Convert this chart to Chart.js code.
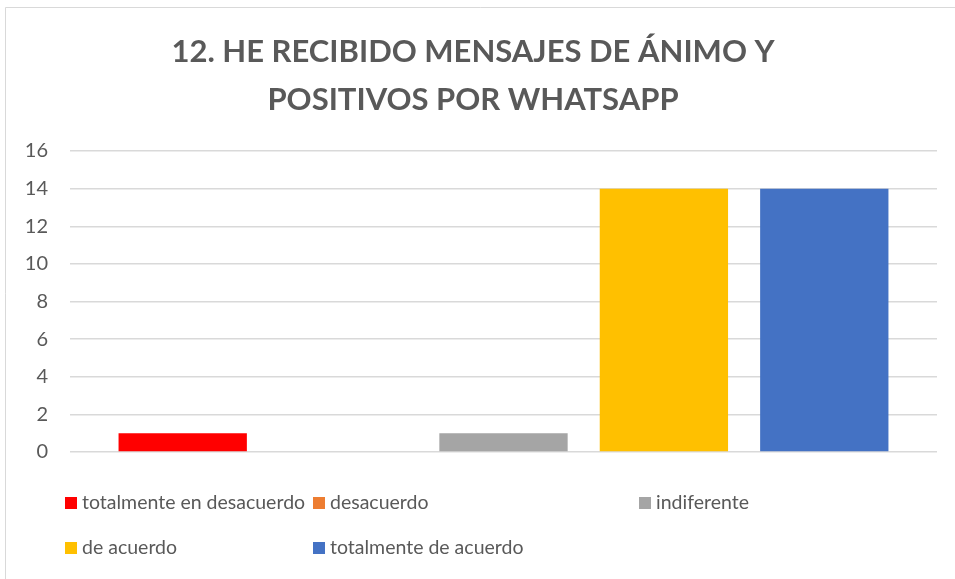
<!DOCTYPE html>
<html>
<head>
<meta charset="utf-8">
<script src="https://cdn.jsdelivr.net/npm/chart.js@4"></script>
<style>
html,body{margin:0;padding:0;background:#fff;}
#wrap{width:955px;height:579px;position:relative;}
</style>
</head>
<body>
<div id="wrap"><canvas id="c" width="955" height="579"></canvas></div>
<script>
const titleLines = ["12. HE RECIBIDO MENSAJES DE ÁNIMO Y", "POSITIVOS POR WHATSAPP"];
const categories = [""];
const seriesNames = ["totalmente en desacuerdo", "desacuerdo", "indiferente", "de acuerdo", "totalmente de acuerdo"];
const seriesValues = [[1], [0], [1], [14], [14]];
const seriesColors = ["#FF0000", "#ED7D31", "#A5A5A5", "#FFC000", "#4472C4"];
const yTicks = [0, 2, 4, 6, 8, 10, 12, 14, 16];

const FONT = "Lato, 'Open Sans', sans-serif";
const TEXT = "#595959";

const framePlugin = {
  id: 'frame',
  beforeDraw(chart) {
    const ctx = chart.ctx;
    ctx.save();
    ctx.fillStyle = '#fff';
    ctx.fillRect(0, 0, chart.width, chart.height);
    ctx.strokeStyle = '#d9d9d9';
    ctx.lineWidth = 1;
    ctx.beginPath();
    ctx.moveTo(5.5, chart.height);
    ctx.lineTo(5.5, 7.5);
    ctx.lineTo(chart.width, 7.5);
    ctx.stroke();
    ctx.restore();
  },
  afterDraw(chart) {
    const ctx = chart.ctx;
    ctx.save();
    // title
    ctx.fillStyle = TEXT;
    ctx.font = "bold 31px " + FONT;
    ctx.textAlign = 'center';
    ctx.textBaseline = 'middle';
    ctx.fillText(titleLines[0], 473, 52);
    ctx.fillText(titleLines[1], 473, 100);
    // legend
    const cols = [65, 313, 639];
    const rows = [503, 548];
    ctx.font = "19.5px " + FONT;
    ctx.textAlign = 'left';
    chart.data.datasets.forEach((ds, i) => {
      const x = cols[i % 3];
      const y = rows[Math.floor(i / 3)];
      ctx.fillStyle = ds.backgroundColor;
      ctx.fillRect(x, y - 6, 12, 12);
      ctx.fillStyle = TEXT;
      ctx.fillText(ds.label, x + 17, y);
    });
    ctx.restore();
  }
};

new Chart(document.getElementById('c'), {
  type: 'bar',
  data: {
    labels: categories,
    datasets: seriesNames.map((name, i) => ({
      label: name,
      data: seriesValues[i],
      backgroundColor: seriesColors[i],
      borderWidth: 0
    }))
  },
  options: {
    responsive: false,
    animation: false,
    devicePixelRatio: 1,
    layout: { padding: { top: 151, bottom: 127, left: 0, right: 18 } },
    datasets: { bar: { barPercentage: 0.8, categoryPercentage: 0.925 } },
    plugins: { legend: { display: false }, title: { display: false }, tooltip: { enabled: false } },
    scales: {
      x: {
        display: false
      },
      y: {
        min: 0, max: 16,
        afterFit(scale) { scale.width = 70; },
        afterBuildTicks(scale) { scale.ticks = yTicks.map(v => ({ value: v })); },
        grid: { color: '#d9d9d9', lineWidth: 1.5, drawTicks: false },
        border: { display: false },
        ticks: { color: TEXT, font: { family: FONT, size: 20 }, padding: 22 }
      }
    }
  },
  plugins: [framePlugin]
});
</script>
</body>
</html>
